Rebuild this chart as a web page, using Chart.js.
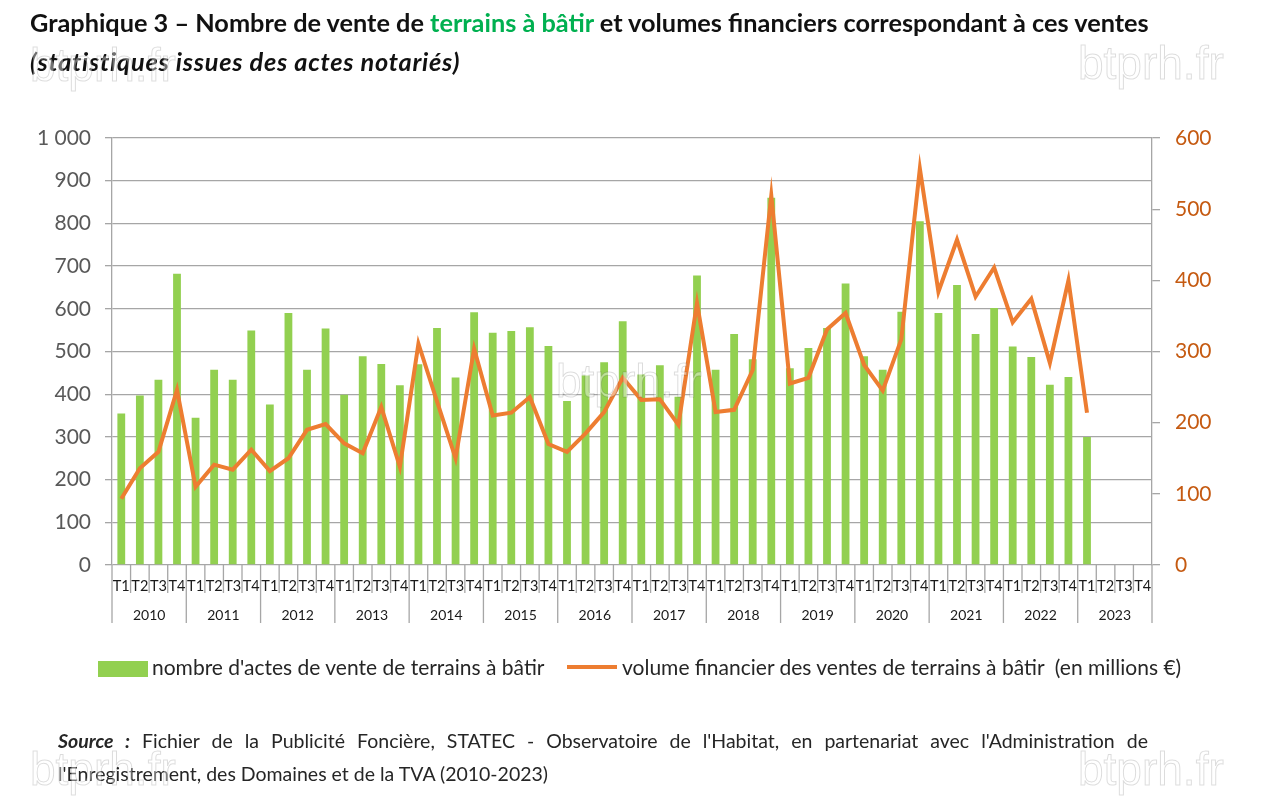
<!DOCTYPE html>
<html>
<head>
<meta charset="utf-8">
<script src="https://cdn.jsdelivr.net/npm/chart.js@4.4.0/dist/chart.umd.min.js"></script>
<style>
  body { margin: 0; width: 1280px; height: 801px; position: relative; background: #fff; overflow: hidden; font-family: 'Lato', sans-serif; }
  #c { position: absolute; left: 0; top: 0; }
  .title { position: absolute; left: 30px; white-space: nowrap; color: #111; font-weight: 700; }
  .legend { position: absolute; top: 654px; font-size: 21px; color: #262626; white-space: nowrap; }
  .source { position: absolute; left: 58px; top: 724px; width: 1090px; font-size: 19.5px; line-height: 33px; color: #262626; text-align: justify; text-align-last: left; }
  .wm { position: absolute; font-family: 'Liberation Sans', sans-serif; font-size: 46px; color: rgba(255,255,255,0.4); -webkit-text-stroke: 1px rgba(0,0,0,0.14); pointer-events: none; }
</style>
</head>
<body>
<canvas id="c" width="1280" height="801"></canvas>

<div class="title" style="top:7px;font-size:25.3px">Graphique 3 – Nombre de vente de <span style="color:#00b050">terrains à bâtir</span> et volumes financiers correspondant à ces ventes</div>
<div class="title" style="top:46px;font-size:25.3px;font-style:italic;letter-spacing:0.75px">(statistiques issues des actes notariés)</div>

<div class="legend" style="left:98px"><span style="display:inline-block;width:50px;height:16px;background:#92d050;vertical-align:-2px;margin-right:4px"></span>nombre d'actes de vente de terrains à bâtir</div>
<div class="legend" style="left:567px"><span style="display:inline-block;width:50px;height:4px;background:#ed7d31;vertical-align:6px;margin-right:5px"></span>volume financier des ventes de terrains à bâtir&nbsp; (en millions €)</div>

<div class="source"><b><i>Source :</i></b> Fichier de la Publicité Foncière, STATEC - Observatoire de l'Habitat, en partenariat avec l'Administration de l'Enregistrement, des Domaines et de la TVA (2010-2023)</div>

<div class="wm" style="left:1078px;top:36px">btprh.fr</div>
<div class="wm" style="left:30px;top:38px">btprh.fr</div>
<div class="wm" style="left:556px;top:354px">btprh.fr</div>
<div class="wm" style="left:30px;top:742px">btprh.fr</div>
<div class="wm" style="left:1078px;top:742px">btprh.fr</div>

<script>
const years = ['2010','2011','2012','2013','2014','2015','2016','2017','2018','2019','2020','2021','2022','2023'];
const quarters = ['T1','T2','T3','T4'];

// nombre d'actes de vente (axe gauche)
const ventes = [355,397,434,682, 345,457,434,549, 376,590,457,554, 399,489,471,421,
                470,555,439,592, 544,548,557,513, 384,444,475,571, 446,468,394,678,
                457,541,482,860, 461,508,555,659, 489,457,593,805, 590,656,541,602,
                512,487,422,440, 300];

// volume financier en millions € (axe droit)
const volumes = [93,136,159,246, 110,141,134,162, 132,150,190,198, 171,157,222,138,
                 311,230,150,304, 210,214,236,170, 159,185,215,263, 232,233,197,368,
                 215,218,274,519, 255,263,331,354, 281,245,317,557, 384,457,377,418,
                 341,374,284,400, 214];

const labels = [];
years.forEach(y => quarters.forEach(q => labels.push(q)));

const gridCol = '#a6a6a6';
const textCol = '#1a1a1a';

// séparateurs trimestres / années + libellés années
const groupAxis = {
  id: 'groupAxis',
  afterDraw(chart) {
    const ctx = chart.ctx;
    const x = chart.scales.x;
    const bottom = chart.chartArea.bottom;
    const w = x.getPixelForValue(1) - x.getPixelForValue(0);
    ctx.save();
    ctx.strokeStyle = gridCol;
    ctx.lineWidth = 1.3;
    for (let i = 0; i <= labels.length; i++) {
      const bx = x.getPixelForValue(0) - w / 2 + i * w;
      const len = i % 4 === 0 ? 58 : 28;
      ctx.beginPath();
      ctx.moveTo(bx, bottom);
      ctx.lineTo(bx, bottom + len);
      ctx.stroke();
    }
    ctx.fillStyle = textCol;
    ctx.font = '14px Lato';
    ctx.textAlign = 'center';
    ctx.textBaseline = 'middle';
    years.forEach((y, j) => {
      const cx = (x.getPixelForValue(j * 4) + x.getPixelForValue(j * 4 + 3)) / 2;
      ctx.fillText(y, cx, bottom + 50);
    });
    ctx.restore();
  }
};

new Chart(document.getElementById('c'), {
  data: {
    labels: labels,
    datasets: [
      {
        type: 'line',
        label: 'volume financier des ventes de terrains à bâtir  (en millions €)',
        data: volumes,
        yAxisID: 'y1',
        borderColor: '#ed7d31',
        borderWidth: 4,
        pointRadius: 0,
        tension: 0,
        order: 0
      },
      {
        type: 'bar',
        label: "nombre d'actes de vente de terrains à bâtir",
        data: ventes,
        yAxisID: 'y',
        backgroundColor: '#92d050',
        barPercentage: 0.42,
        categoryPercentage: 1,
        order: 1
      }
    ]
  },
  options: {
    responsive: false,
    animation: false,
    layout: { padding: { top: 138, bottom: 178, left: 0, right: 0 } },
    plugins: { legend: { display: false }, tooltip: { enabled: false } },
    scales: {
      x: {
        offset: true,
        grid: { display: false },
        border: { display: false },
        ticks: { color: textCol, font: { family: 'Lato', size: 14.5 }, padding: 5, maxRotation: 0, autoSkip: false },
        afterFit: s => { s.height = 58; }
      },
      y: {
        position: 'left',
        min: 0, max: 1000,
        ticks: {
          stepSize: 100, color: '#595959', padding: 14,
          font: { family: 'Lato', size: 21 },
          callback: v => String(v).replace(/\B(?=(\d{3})+(?!\d))/g, ' ')
        },
        grid: { color: gridCol, lineWidth: 1.3, tickLength: 7 },
        border: { color: gridCol, width: 1.3 },
        afterFit: s => { s.width = 112; }
      },
      y1: {
        position: 'right',
        min: 0, max: 600,
        ticks: { stepSize: 100, color: '#c55a11', padding: 15, font: { family: 'Lato', size: 21 } },
        grid: { drawOnChartArea: false, color: gridCol, lineWidth: 1.3, tickLength: 8 },
        border: { color: gridCol, width: 1.3 },
        afterFit: s => { s.width = 128; }
      }
    }
  },
  plugins: [groupAxis]
});
</script>
</body>
</html>
